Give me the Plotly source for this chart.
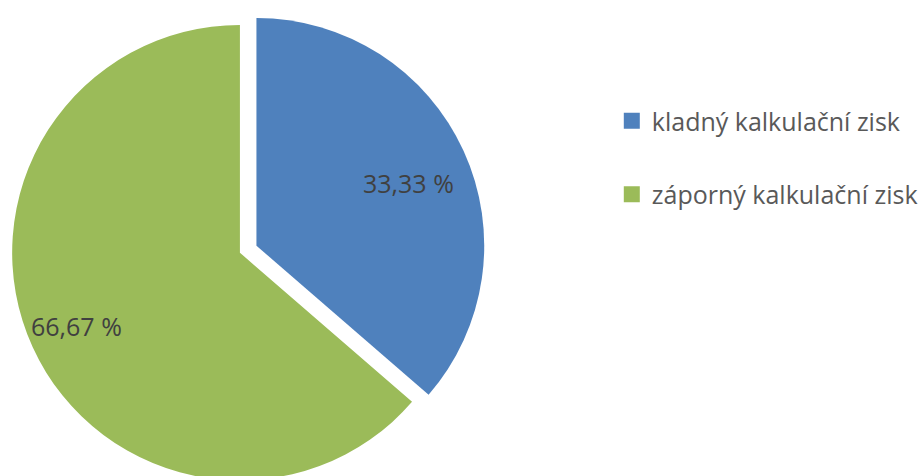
import plotly.graph_objects as go

categories = ["kladný kalkulační zisk", "záporný kalkulační zisk"]
values = [4, 7]  # slice sizes as drawn in the picture
label_texts = ["33,33 %", "66,67 %"]  # data labels as printed on the chart
colors = ["#4F81BD", "#9BBB59"]

W, H = 923, 506

# geometry (pixels from top-left of the figure)
CX, CY, R = 240.7, 252.7, 228.5
EXPLODE = (16.6, -7.0)  # offset of the exploded first slice


def dom(cx, cy):
    return dict(
        x=[(cx - R) / W, (cx + R) / W],
        y=[1 - (cy + R) / H, 1 - (cy - R) / H],
    )


fig = go.Figure()
# full pie, first slice hidden (drawn exploded below)
fig.add_trace(go.Pie(
    labels=categories, values=values, text=label_texts,
    textinfo="none", sort=False, direction="clockwise", rotation=0,
    marker=dict(colors=["rgba(0,0,0,0)", colors[1]], line=dict(width=0)),
    showlegend=False, hovertemplate="%{label}: %{text}<extra></extra>",
    domain=dom(CX, CY),
))
# exploded first slice
fig.add_trace(go.Pie(
    labels=categories, values=values, text=label_texts,
    textinfo="none", sort=False, direction="clockwise", rotation=0,
    marker=dict(colors=[colors[0], "rgba(0,0,0,0)"], line=dict(width=0)),
    showlegend=False, hovertemplate="%{label}: %{text}<extra></extra>",
    domain=dom(CX + EXPLODE[0], CY + EXPLODE[1]),
))

# data labels placed where the original chart put them
label_pos = [(410, 183), (77, 326)]
for txt, (px, py) in zip(label_texts, label_pos):
    fig.add_annotation(
        x=px / W, y=1 - py / H, xref="paper", yref="paper",
        text=txt, showarrow=False, xanchor="center", yanchor="middle",
        font=dict(family="Open Sans", size=25, color="#404040"),
    )

# legend entries
for i, (name, col) in enumerate(zip(categories, colors)):
    fig.add_trace(go.Scatter(
        x=[None], y=[None], mode="markers", name=name,
        marker=dict(symbol="square", size=16, color=col),
        legendgroup=f"g{i}", showlegend=True, hoverinfo="skip",
    ))

fig.update_layout(
    width=W, height=H,
    margin=dict(l=0, r=0, t=0, b=0),
    paper_bgcolor="white", plot_bgcolor="white",
    xaxis=dict(visible=False), yaxis=dict(visible=False),
    legend=dict(
        x=0.665, y=1 - 98 / H, xanchor="left", yanchor="top",
        font=dict(family="Open Sans", size=25, color="#595959"),
        tracegroupgap=38, itemsizing="trace",
    ),
)

fig.write_html(
    "out.html",
    config={"displayModeBar": False},
    post_script="document.body.style.margin='0';document.body.style.overflow='hidden';",
)
